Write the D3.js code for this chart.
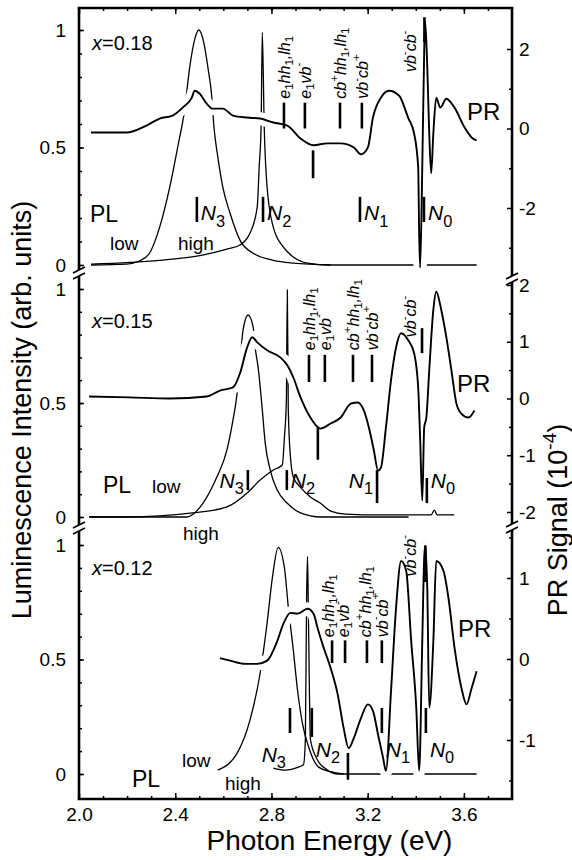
<!DOCTYPE html>
<html>
<head>
<meta charset="utf-8">
<script src="https://cdn.jsdelivr.net/npm/d3@7"></script>
<style>
  body { margin: 0; background: #fff; }
  svg { display: block; }
  text { font-family: "Liberation Sans", Arial, Helvetica, sans-serif; fill: #000; }
  .tick line { stroke: #000; stroke-width: 1.5; }
  .tick text { font-size: 19px; }
</style>
</head>
<body>
<div id="chart"></div>
<script>
'use strict';

// ---- data ----
var energyTicks = [2.0, 2.4, 2.8, 3.2, 3.6];
var lumTicks = [0, 0.5, 1];
var compositions = ['0.18', '0.15', '0.12'];

var prTicks18 = [-2, 0, 2];
var prTicks15 = [-2, -1, 0, 1, 2];
var prTicks12 = [-1, 0, 1];

// x = 0.18
var plLow18 = [[2.05,0],[2.197,0.004],[2.251,0.017],[2.293,0.05],[2.335,0.16],[2.377,0.33],[2.41,0.5],[2.439,0.66],[2.46,0.84],[2.481,0.96],[2.498,1.0],[2.519,0.945],[2.536,0.84],[2.552,0.715],[2.561,0.587],[2.577,0.46],[2.598,0.33],[2.628,0.22],[2.669,0.106],[2.724,0.05],[2.808,0.02],[2.891,0.008],[3.046,0]];
var plHigh18 = [[2.05,0.004],[2.335,0.02],[2.502,0.04],[2.615,0.068],[2.669,0.085],[2.711,0.136],[2.741,0.247],[2.749,0.417],[2.757,0.587],[2.762,0.99],[2.77,0.587],[2.782,0.33],[2.808,0.16],[2.849,0.077],[2.891,0.034],[2.95,0.008],[3.046,0],[3.653,0]];
var pr18 = [[2.05,-0.1],[2.126,-0.1],[2.197,-0.1],[2.28,0.075],[2.335,0.25],[2.389,0.325],[2.431,0.525],[2.469,0.775],[2.481,0.95],[2.502,0.875],[2.531,0.625],[2.556,0.5],[2.598,0.5],[2.64,0.325],[2.699,0.275],[2.753,0.25],[2.808,0.15],[2.866,0.075],[2.921,-0.25],[2.975,-0.42],[3.033,-0.375],[3.088,-0.375],[3.142,-0.475],[3.172,-0.65],[3.201,-0.475],[3.222,0.275],[3.255,0.775],[3.289,0.95],[3.331,0.825],[3.368,0.275],[3.393,-0.125],[3.41,-0.975],[3.414,-2.6],[3.418,-3.5],[3.427,-0.975],[3.435,1.95],[3.439,2.7],[3.448,1.5],[3.456,-0.125],[3.464,-1.125],[3.473,-0.125],[3.485,0.775],[3.502,0.525],[3.527,0.75],[3.561,0.525],[3.603,0.025],[3.632,-0.225],[3.653,-0.3]];

// x = 0.15
var plLow15 = [[2.042,0],[2.448,0],[2.515,0.06],[2.573,0.175],[2.615,0.294],[2.64,0.425],[2.657,0.54],[2.669,0.675],[2.682,0.82],[2.703,0.886],[2.724,0.833],[2.732,0.746],[2.745,0.653],[2.762,0.47],[2.774,0.325],[2.795,0.206],[2.824,0.118],[2.866,0.06],[2.921,0.018],[3.004,0],[3.37,0]];
var plHigh15 = [[2.042,0],[2.197,0],[2.473,0.018],[2.615,0.044],[2.699,0.105],[2.753,0.162],[2.808,0.206],[2.845,0.228],[2.854,0.35],[2.862,0.51],[2.866,0.996],[2.87,0.47],[2.879,0.263],[2.891,0.175],[2.921,0.13],[2.962,0.088],[3.004,0.06],[3.046,0.026],[3.109,0.013],[3.255,0.009],[3.464,0.009],[3.477,0.03],[3.489,0.009],[3.56,0.009]];
var pr15 = [[2.042,0.035],[2.209,0.02],[2.377,0],[2.531,0.035],[2.586,0.14],[2.64,0.195],[2.669,0.44],[2.699,0.9],[2.72,1.08],[2.741,0.99],[2.782,0.85],[2.837,0.725],[2.866,0.585],[2.891,0.37],[2.921,0.02],[2.962,-0.335],[3.004,-0.53],[3.046,-0.44],[3.088,-0.335],[3.13,-0.09],[3.159,-0.07],[3.184,-0.21],[3.205,-0.51],[3.226,-0.92],[3.243,-1.27],[3.255,-1.22],[3.276,-0.51],[3.297,0.32],[3.318,0.9],[3.339,1.15],[3.368,1.03],[3.393,0.8],[3.41,0.195],[3.418,-0.69],[3.427,-1.8],[3.435,-0.51],[3.444,-0.335],[3.456,0.5],[3.473,1.56],[3.485,1.88],[3.506,1.56],[3.527,1.08],[3.548,0.5],[3.569,-0.09],[3.59,-0.27],[3.619,-0.335],[3.644,-0.21]];

// x = 0.12
var plLow12 = [[2.577,0.017],[2.657,0.09],[2.711,0.236],[2.753,0.44],[2.782,0.66],[2.803,0.85],[2.828,0.99],[2.854,0.9],[2.87,0.73],[2.891,0.54],[2.908,0.37],[2.929,0.22],[2.954,0.12],[2.996,0.03],[3.046,0.01],[3.1,0]];
var plHigh12 = [[2.808,0.026],[2.858,0.017],[2.912,0.03],[2.933,0.04],[2.941,0.15],[2.946,0.76],[2.95,0.95],[2.954,0.67],[2.962,0.15],[2.992,0.06],[3.033,0.017],[3.075,0],[3.653,0]];
var pr12 = [[2.586,0.01],[2.628,-0.02],[2.69,-0.06],[2.741,-0.06],[2.782,-0.02],[2.824,0.22],[2.849,0.43],[2.879,0.57],[2.908,0.56],[2.95,0.62],[2.975,0.56],[2.992,0.38],[3.017,0.14],[3.046,-0.11],[3.075,-0.43],[3.1,-0.85],[3.121,-1.1],[3.142,-0.98],[3.172,-0.73],[3.201,-0.56],[3.222,-0.64],[3.243,-0.93],[3.264,-1.22],[3.276,-1.38],[3.297,-0.4],[3.318,0.63],[3.339,1.21],[3.36,1.09],[3.381,0.22],[3.402,-0.6],[3.414,-1.38],[3.427,0.22],[3.435,1.25],[3.439,1.4],[3.448,0.84],[3.456,-0.6],[3.473,0.22],[3.485,1.21],[3.515,1.09],[3.536,0.75],[3.561,0.14],[3.59,-0.36],[3.611,-0.56],[3.632,-0.36],[3.653,-0.15]];

// transition markers: energy, bar extent (PR units), label start (PR units)
var trans18 = [
  {label:'e_1hh_1,lh_1', e:2.852, lo:0.0, hi:0.65, ly:0.75},
  {label:'e_1vb^-', e:2.939, lo:0.0, hi:0.65, ly:0.75},
  {label:'', e:2.973, lo:-1.25, hi:-0.55},
  {label:'cb^+hh_1,lh_1', e:3.085, lo:0.0, hi:0.65, ly:0.75},
  {label:'vb^-cb^+', e:3.176, lo:0.0, hi:0.65, ly:0.75},
  {label:'vb^-cb^-', e:3.436, lo:2.17, hi:2.8, le:3.378, ly:1.42}
];
var trans15 = [
  {label:'e_1hh_1,lh_1', e:2.956, lo:0.29, hi:0.77, ly:0.85},
  {label:'e_1vb^-', e:3.022, lo:0.29, hi:0.77, ly:0.85},
  {label:'', e:2.993, lo:-1.08, hi:-0.52},
  {label:'cb^+hh_1,lh_1', e:3.139, lo:0.29, hi:0.77, ly:0.85},
  {label:'vb^-cb^+', e:3.218, lo:0.29, hi:0.77, ly:0.85},
  {label:'vb^-cb^-', e:3.426, lo:0.8, hi:1.24, le:3.378, ly:1.08}
];
var trans12 = [
  {label:'e_1hh_1,lh_1', e:3.052, lo:-0.05, hi:0.23, le:3.035, ly:0.27},
  {label:'e_1vb^-', e:3.106, lo:-0.05, hi:0.23, le:3.099, ly:0.27},
  {label:'', e:3.118, lo:-1.49, hi:-1.16},
  {label:'cb^+hh_1,lh_1', e:3.197, lo:-0.05, hi:0.23, le:3.19, ly:0.27},
  {label:'vb^-cb^+', e:3.259, lo:-0.05, hi:0.23, ly:0.27},
  {label:'vb^-cb^-', e:3.44, lo:0.95, hi:1.4, le:3.378, ly:1.02}
];

// N peaks: energy, bar extent and label baseline (luminescence units)
var nMarks18 = [
  {n:'3', e:2.49, lo:0.183, hi:0.29, side:'r', base:0.19},
  {n:'2', e:2.765, lo:0.183, hi:0.29, side:'r', base:0.19},
  {n:'1', e:3.168, lo:0.183, hi:0.29, side:'r', base:0.19},
  {n:'0', e:3.434, lo:0.183, hi:0.29, side:'r', base:0.19}
];
var nMarks15 = [
  {n:'3', e:2.702, lo:0.118, hi:0.206, side:'l', base:0.127},
  {n:'2', e:2.864, lo:0.118, hi:0.206, side:'r', base:0.127},
  {n:'1', e:3.239, lo:0.061, hi:0.206, side:'l', base:0.127},
  {n:'0', e:3.446, lo:0.061, hi:0.171, side:'r', base:0.127}
];
var nMarks12 = [
  {n:'3', e:2.877, lo:0.179, hi:0.288, side:'l', base:0.052},
  {n:'2', e:2.968, lo:0.162, hi:0.288, side:'r', base:0.074},
  {n:'1', e:3.259, lo:0.179, hi:0.288, side:'r', base:0.074},
  {n:'0', e:3.442, lo:0.179, hi:0.288, side:'r', base:0.074}
];

// ---- layout ----
var W = 572, H = 860;
var L = 79, R = 512, T = 8, B = 799;

var panels = [
  {comp:compositions[0], low:plLow18, high:plHigh18, pr:pr18, marks:trans18, ns:nMarks18,
   prTicks:prTicks18, prStep:1, lum:[265, 30], prDom:[-2, 2], prRange:[208, 49],
   lspan:[T, 273], rspan:[T, 279],
   txt:{comp:[92, 50], pl:[90, 222], low:[110, 250], high:[178, 250], pr:[467, 120]}},
  {comp:compositions[1], low:plLow15, high:plHigh15, pr:pr15, marks:trans15, ns:nMarks15,
   prTicks:prTicks15, prStep:0.5, lum:[517, 289], prDom:[-2, 2], prRange:[512, 285],
   lspan:[273, 528], rspan:[279, 527],
   txt:{comp:[92, 328], pl:[103, 493], low:[152, 493], high:[183, 540], pr:[457, 392]}},
  {comp:compositions[2], low:plLow12, high:plHigh12, pr:pr12, marks:trans12, ns:nMarks12,
   prTicks:prTicks12, prStep:0.5, lum:[774, 545], prDom:[-1, 1], prRange:[740, 578],
   lspan:[528, B], rspan:[527, B],
   txt:{comp:[92, 575], pl:[132, 787], low:[182, 767], high:[225, 790], pr:[458, 637]}}
];

var svg = d3.select('#chart').append('svg')
    .attr('width', W).attr('height', H);

var x = d3.scaleLinear().domain([2.0, 3.8]).range([L, R]);

// rich text: "_c" subscript, "^c" superscript
var rich = function(sel, str, fs, small){
  var parts = [];
  for (var i = 0; i < str.length; i++){
    var c = str[i];
    if ((c === '_' || c === '^') && i + 1 < str.length){
      parts.push({t: str[i+1], k: c}); i++;
    } else if (parts.length && parts[parts.length-1].k === 'n'){
      parts[parts.length-1].t += c;
    } else {
      parts.push({t: c, k: 'n'});
    }
  }
  var shift = 0;
  parts.forEach(function(p){
    var target = p.k === '_' ? fs*0.3 : (p.k === '^' ? -fs*0.4 : 0);
    sel.append('tspan')
        .attr('dy', target - shift)
        .style('font-size', (p.k === 'n' ? fs : fs*small) + 'px')
        .style('font-style', /[a-zA-Z]/.test(p.t) ? 'italic' : 'normal')
        .text(p.t);
    shift = target;
  });
};

panels.forEach(function(p){
  var ly = d3.scaleLinear().domain([0, 1]).range(p.lum);
  var py = d3.scaleLinear().domain(p.prDom).range(p.prRange);
  var g = svg.append('g');

  var lumLine = d3.line()
      .x(function(d){ return x(d[0]); })
      .y(function(d){ return ly(d[1]); })
      .curve(d3.curveMonotoneX);
  var prLine = d3.line()
      .x(function(d){ return x(d[0]); })
      .y(function(d){ return py(d[1]); })
      .curve(d3.curveMonotoneX);

  [p.low, p.high].forEach(function(s){
    g.append('path').attr('d', lumLine(s))
        .attr('fill', 'none').attr('stroke', '#000').attr('stroke-width', 1.3);
  });

  // white halo so PL lines break where the PR trace crosses
  g.append('path').attr('d', prLine(p.pr))
      .attr('fill', 'none').attr('stroke', '#fff').attr('stroke-width', 13)
      .attr('stroke-linejoin', 'round');
  g.append('path').attr('d', prLine(p.pr))
      .attr('fill', 'none').attr('stroke', '#000').attr('stroke-width', 1.9)
      .attr('stroke-linejoin', 'round');

  // transition bars and rotated labels
  p.marks.forEach(function(m){
    g.append('line')
        .attr('x1', x(m.e)).attr('x2', x(m.e))
        .attr('y1', py(m.lo)).attr('y2', py(m.hi))
        .attr('stroke', '#000').attr('stroke-width', 2.6);
    if (m.label){
      var lx = x(m.le !== undefined ? m.le : m.e);
      var t = g.append('text')
          .attr('transform', 'translate(' + lx + ',' + py(m.ly) + ') rotate(-90)')
          .attr('dominant-baseline', 'central');
      rich(t, m.label, 16, 0.72);
    }
  });

  // N peak markers
  p.ns.forEach(function(m){
    var bx = x(m.e);
    g.append('line')
        .attr('x1', bx).attr('x2', bx)
        .attr('y1', ly(m.lo)).attr('y2', ly(m.hi))
        .attr('stroke', '#000').attr('stroke-width', 2.6);
    var t = g.append('text')
        .attr('x', m.side === 'r' ? bx + 4 : bx - 4)
        .attr('y', ly(m.base))
        .attr('text-anchor', m.side === 'r' ? 'start' : 'end');
    rich(t, 'N_' + m.n, 21, 0.78);
  });

  // panel texts
  var c = g.append('text').attr('x', p.txt.comp[0]).attr('y', p.txt.comp[1]).style('font-size', '20px');
  c.append('tspan').style('font-style', 'italic').text('x');
  c.append('tspan').text('=' + p.comp);
  g.append('text').attr('x', p.txt.pl[0]).attr('y', p.txt.pl[1]).style('font-size', '23px').text('PL');
  g.append('text').attr('x', p.txt.low[0]).attr('y', p.txt.low[1]).style('font-size', '19px').text('low');
  g.append('text').attr('x', p.txt.high[0]).attr('y', p.txt.high[1]).style('font-size', '19px').text('high');
  g.append('text').attr('x', p.txt.pr[0]).attr('y', p.txt.pr[1]).style('font-size', '24px').text('PR');

  // left axis (luminescence)
  var la = g.append('g').attr('transform', 'translate(' + L + ',0)')
      .call(d3.axisLeft(ly).tickValues(lumTicks)
        .tickFormat(function(d){ return String(d); })
        .tickSize(-5).tickPadding(13));
  la.select('.domain').remove();
  var lm = g.append('g').attr('transform', 'translate(' + L + ',0)')
      .call(d3.axisLeft(ly).tickValues(d3.range(0, 1.01, 0.1)).tickFormat('').tickSize(-3));
  lm.select('.domain').remove();

  // right axis (PR signal)
  var ra = g.append('g').attr('transform', 'translate(' + R + ',0)')
      .call(d3.axisRight(py).tickValues(p.prTicks)
        .tickFormat(function(d){ return String(d); })
        .tickSize(-5).tickPadding(7));
  ra.select('.domain').remove();
  var lo = py.invert(p.rspan[1] - 2), hi = py.invert(p.rspan[0] + 2);
  var minor = d3.range(Math.ceil(lo / p.prStep) * p.prStep, hi, p.prStep)
      .filter(function(v){ return p.prTicks.indexOf(v) < 0; });
  var rm = g.append('g').attr('transform', 'translate(' + R + ',0)')
      .call(d3.axisRight(py).tickValues(minor).tickFormat('').tickSize(-3));
  rm.select('.domain').remove();

  // axis lines
  g.append('line').attr('x1', L).attr('x2', L).attr('y1', p.lspan[0]).attr('y2', p.lspan[1])
      .attr('stroke', '#000').attr('stroke-width', 2.6);
  g.append('line').attr('x1', R).attr('x2', R).attr('y1', p.rspan[0]).attr('y2', p.rspan[1])
      .attr('stroke', '#000').attr('stroke-width', 2.6);
});

// breaks on both vertical axes
var breaks = [[L, 273], [L, 528], [R, 279], [R, 527]];
breaks.forEach(function(b){
  var bx = b[0], by = b[1];
  svg.append('rect').attr('x', bx - 3).attr('y', by - 3).attr('width', 6).attr('height', 6).attr('fill', '#fff');
  [-3, 3].forEach(function(o){
    svg.append('line')
        .attr('x1', bx - 6).attr('y1', by + o + 3)
        .attr('x2', bx + 6).attr('y2', by + o - 3)
        .attr('stroke', '#000').attr('stroke-width', 1.8);
  });
});

// top and bottom frame with energy axis
svg.append('line').attr('x1', L - 1.3).attr('x2', R + 1.3).attr('y1', T).attr('y2', T)
    .attr('stroke', '#000').attr('stroke-width', 2.6);
svg.append('line').attr('x1', L - 1.3).attr('x2', R + 1.3).attr('y1', B).attr('y2', B)
    .attr('stroke', '#000').attr('stroke-width', 2.6);

var xb = svg.append('g').attr('transform', 'translate(0,' + B + ')')
    .call(d3.axisBottom(x).tickValues(energyTicks).tickFormat(d3.format('.1f'))
      .tickSize(-6).tickPadding(9));
xb.select('.domain').remove();
var xbm = svg.append('g').attr('transform', 'translate(0,' + B + ')')
    .call(d3.axisBottom(x).tickValues(d3.range(2.1, 3.75, 0.1)).tickFormat('').tickSize(-3));
xbm.select('.domain').remove();
var xt = svg.append('g').attr('transform', 'translate(0,' + T + ')')
    .call(d3.axisTop(x).tickValues(energyTicks).tickFormat('').tickSize(-6));
xt.select('.domain').remove();
var xtm = svg.append('g').attr('transform', 'translate(0,' + T + ')')
    .call(d3.axisTop(x).tickValues(d3.range(2.1, 3.75, 0.1)).tickFormat('').tickSize(-3));
xtm.select('.domain').remove();

// axis titles
svg.append('text').attr('x', (L + R) / 2 + 34).attr('y', 850)
    .attr('text-anchor', 'middle').style('font-size', '28px')
    .text('Photon Energy (eV)');
svg.append('text')
    .attr('transform', 'translate(31,410) rotate(-90)')
    .attr('text-anchor', 'middle').style('font-size', '27px')
    .text('Luminescence Intensity (arb. units)');
var rt = svg.append('text')
    .attr('transform', 'translate(567,520) rotate(-90)')
    .attr('text-anchor', 'middle').style('font-size', '27px');
rt.append('tspan').text('PR Signal (10');
rt.append('tspan').attr('dy', -11).style('font-size', '19px').text('-4');
rt.append('tspan').attr('dy', 11).text(')');
</script>
</body>
</html>
